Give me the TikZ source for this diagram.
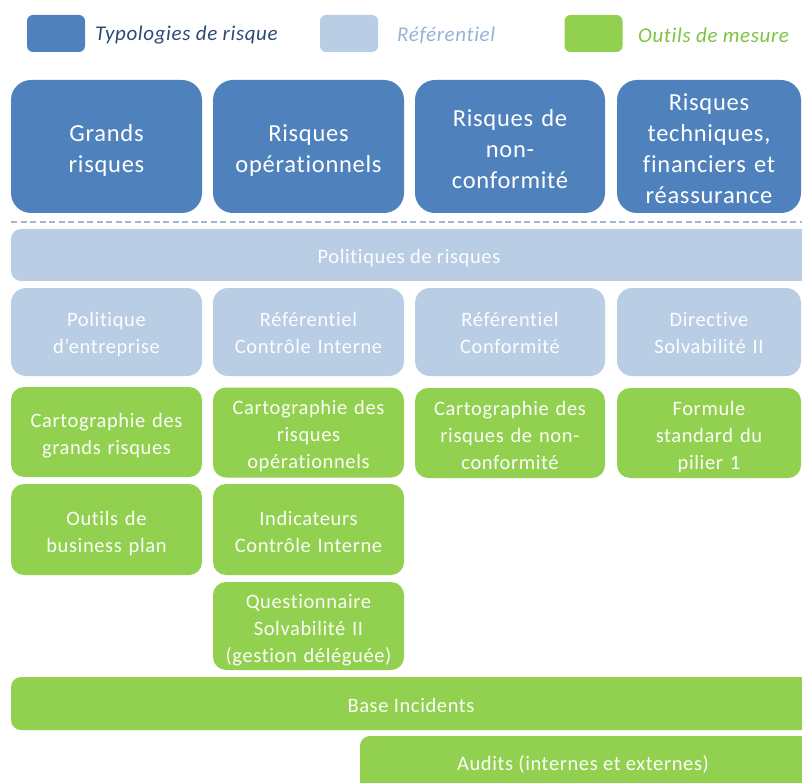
\documentclass[tikz,border=0pt]{standalone}
\usepackage{fontspec}
\setmainfont{Carlito}[Ligatures=NoCommon, LetterSpace=3]
\definecolor{typo}{HTML}{4F81BD}
\definecolor{refc}{HTML}{B9CDE5}
\definecolor{outc}{HTML}{92D050}
\definecolor{typotxt}{HTML}{2C4A78}
\definecolor{reftxt}{HTML}{95B3D7}
\definecolor{outtxt}{HTML}{7DC242}
\definecolor{dashc}{HTML}{A3B7D3}
\begin{document}
\begin{tikzpicture}[x=1pt,y=-1pt,
  box/.style={rounded corners=#1, inner sep=0pt, align=center, text=white},
  typobox/.style={box=20pt, fill=typo, font=\fontsize{24.5}{31}\selectfont,
     minimum width=#1, minimum height=133pt, text width=#1-4pt, text height=28pt},
  refbox/.style={box=15pt, fill=refc, text=white!96!refc, font=\fontsize{20.5}{27}\selectfont,
     minimum width=#1, minimum height=88pt, text width=#1-4pt, text height=18pt},
  outbox/.style={box=13pt, fill=outc, text=white!96!outc, font=\fontsize{20.5}{27}\selectfont,
     minimum width=#1, text width=#1-4pt, text height=21pt},
  tw/.style={text depth=37pt}, tt/.style={text depth=68pt}, tf/.style={text depth=99pt},
  rw/.style={text depth=30pt}, rt/.style={text depth=57pt},
  barref/.style={rounded corners=10pt, inner sep=0pt, fill=refc, minimum height=52pt},
  barout/.style={rounded corners=10pt, inner sep=0pt, fill=outc, minimum height=53pt},
  bartxt/.style={inner sep=0pt, font=\fontsize{20.5}{27}\selectfont},
  legsq/.style={rounded corners=6pt, minimum width=58pt, minimum height=37pt, inner sep=0pt},
  legtxt/.style={anchor=west, inner sep=0pt, font=\fontsize{21}{24}\selectfont\itshape},
]
\path[use as bounding box] (0,0) rectangle (802,783);
\clip (0,0) rectangle (802,783);

% legend
\node[legsq, fill=typo] (l1) at (56,33.5) {};
\node[legtxt, text=typotxt] (l1t) at (95,35) {Typologies de risque};
\node[legsq, fill=refc] (l2) at (349,33.5) {};
\node[legtxt, text=reftxt] (l2t) at (397,35) {Référentiel};
\node[legsq, fill=outc] (l3) at (593.5,33.5) {};
\node[legtxt, text=outtxt] (l3t) at (638,35) {Outils de mesure};

% typologies
\node[typobox=191pt, tw] (t1) at (106.5,146.5) {Grands\\risques};
\node[typobox=191pt, tw] (t2) at (308.5,146.5) {Risques\\opérationnels};
\node[typobox=190pt, tt] (t3) at (510,146.5) {Risques de\\non-\\conformité};
\node[typobox=184pt, tf] (t4) at (709,146.5) {Risques\\techniques,\\financiers et\\réassurance};

% dashed separator
\coordinate (dl) at (11,222);
\coordinate (dr) at (802,222);
\draw[dashc, line width=2pt, dash pattern=on 6pt off 3.5pt] (dl) -- (dr);

% referentiel
\node[barref, minimum width=800pt] (pol) at (411,255) {};
\node[bartxt, text=white!96!refc] (polt) at (409,258) {Politiques de risques};
\node[refbox=191pt, rw] (r1) at (106.5,332) {Politique\\d’entreprise};
\node[refbox=191pt, rw] (r2) at (308.5,332) {Référentiel\\Contrôle Interne};
\node[refbox=190pt, rw] (r3) at (510,332) {Référentiel\\Conformité};
\node[refbox=184pt, rw] (r4) at (709,332) {Directive\\Solvabilité II};

% outils
\node[outbox=191pt, rw, minimum height=90pt] (o1) at (106.5,432) {Cartographie des\\grands risques};
\node[outbox=191pt, rt, minimum height=90pt] (o2) at (308.5,432.5) {Cartographie des\\risques\\opérationnels};
\node[outbox=190pt, rt, minimum height=90pt] (o3) at (510,433) {Cartographie des\\risques de non-\\conformité};
\node[outbox=184pt, rt, minimum height=90pt] (o4) at (709,433) {Formule\\standard du\\pilier 1};
\node[outbox=191pt, rw, minimum height=91pt] (o5) at (106.5,529.5) {Outils de\\business plan};
\node[outbox=191pt, rw, minimum height=91pt] (o6) at (308.5,529.5) {Indicateurs\\Contrôle Interne};
\node[outbox=191pt, rt, minimum height=88pt] (o7) at (308.5,626) {Questionnaire\\Solvabilité II\\(gestion déléguée)};
\node[barout, minimum width=800pt] (base) at (411,703.5) {};
\node[bartxt, text=white!96!outc] (baset) at (411,705) {Base Incidents};
\node[barout, minimum width=450pt, minimum height=56pt] (aud) at (585,764) {};
\node[bartxt, text=white!96!outc] (audt) at (583,764) {Audits (internes et externes)};
\end{tikzpicture}
\end{document}
